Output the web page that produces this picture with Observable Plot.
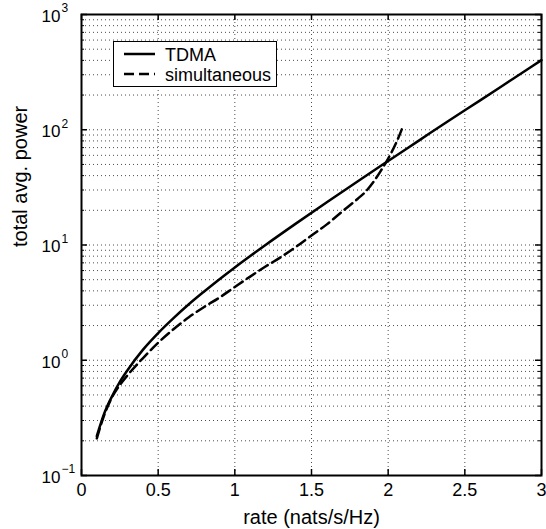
<!DOCTYPE html>
<html>
<head>
<meta charset="utf-8">
<script src="https://cdn.jsdelivr.net/npm/d3@7"></script>
<script src="https://cdn.jsdelivr.net/npm/@observablehq/plot@0.6"></script>
<style>
  html, body { margin: 0; padding: 0; background: #fff; }
  svg { display: block; }
</style>
</head>
<body>
<div id="chart"></div>
<script>
// ---- data ----
const rateTDMA  = [0.1, 0.15, 0.2, 0.25, 0.3, 0.4, 0.5, 0.6, 0.7, 0.8, 0.9, 1.0, 1.2, 1.4, 1.6, 1.8, 2.0, 2.2, 2.4, 2.6, 2.8, 3.0];
const powerTDMA = [0.22, 0.35, 0.49, 0.65, 0.82, 1.23, 1.72, 2.32, 3.06, 3.95, 5.05, 6.39, 10.0, 15.4, 23.5, 35.6, 53.6, 80.5, 121, 180, 269, 402];

const rateSim  = [0.1, 0.15, 0.2, 0.25, 0.3, 0.4, 0.5, 0.6, 0.7, 0.8, 0.9, 1.0, 1.1, 1.2, 1.3, 1.4, 1.5, 1.6, 1.7, 1.8, 1.85, 1.9, 1.95, 2.0, 2.05, 2.1];
const powerSim = [0.21, 0.34, 0.48, 0.61, 0.74, 1.04, 1.42, 1.86, 2.36, 2.90, 3.50, 4.32, 5.32, 6.5, 7.85, 9.66, 12.1, 15.1, 19.5, 25.1, 28.8, 34.7, 43.6, 56.2, 75.9, 110];

const seriesNames = ["TDMA", "simultaneous"];

const xTicks = [0, 0.5, 1, 1.5, 2, 2.5, 3];
const xTickLabels = ["0", "0.5", "1", "1.5", "2", "2.5", "3"];
const xGrid = [0.5, 1, 1.5, 2, 2.5];

const yMajor = [0.1, 1, 10, 100, 1000];
const yExponents = ["\u22121", "0", "1", "2", "3"];
const yMinor = [0.2, 0.3, 0.4, 0.5, 0.6, 0.7, 0.8, 0.9,
                2, 3, 4, 5, 6, 7, 8, 9,
                20, 30, 40, 50, 60, 70, 80, 90,
                200, 300, 400, 500, 600, 700, 800, 900];
const yGrid = [1, 10, 100].concat(yMinor);

const xLabel = "rate (nats/s/Hz)";
const yLabel = "total avg. power";

// ---- tables ----
const tdma = rateTDMA.map((r, i) => ({rate: r, power: powerTDMA[i]}));
const sim = rateSim.map((r, i) => ({rate: r, power: powerSim[i]}));

const W = 546, H = 529;
const mL = 81, mR = 5, mT = 14, mB = 54;
const innerW = W - mL - mR, innerH = H - mT - mB;
const font = "'Liberation Sans', Arial, Helvetica, sans-serif";

const chart = Plot.plot({
  width: W,
  height: H,
  marginLeft: mL,
  marginRight: mR,
  marginTop: mT,
  marginBottom: mB,
  style: {fontFamily: font, background: "#fff", color: "#000"},
  x: {domain: [0, 3], axis: null},
  y: {type: "log", domain: [0.1, 1000], axis: null},
  marks: [
    // grid
    Plot.ruleY(yGrid, {y: d => d, stroke: "#000", strokeWidth: 1, strokeOpacity: 0.7, strokeDasharray: "1,3"}),
    Plot.ruleX(xGrid, {x: d => d, stroke: "#000", strokeWidth: 1, strokeOpacity: 0.7, strokeDasharray: "1,3"}),
    // inward ticks
    Plot.ruleX(xTicks, {x: d => d, insetTop: innerH - 6, stroke: "#000", strokeWidth: 1.5}),
    Plot.ruleX(xTicks, {x: d => d, insetBottom: innerH - 6, stroke: "#000", strokeWidth: 1.5}),
    Plot.ruleY(yMajor, {y: d => d, insetRight: innerW - 6, stroke: "#000", strokeWidth: 1.5}),
    Plot.ruleY(yMajor, {y: d => d, insetLeft: innerW - 6, stroke: "#000", strokeWidth: 1.5}),
    Plot.ruleY(yMinor, {y: d => d, insetRight: innerW - 3, stroke: "#000", strokeWidth: 1}),
    Plot.ruleY(yMinor, {y: d => d, insetLeft: innerW - 3, stroke: "#000", strokeWidth: 1}),
    // curves
    Plot.line(tdma, {x: "rate", y: "power", stroke: "#000", strokeWidth: 2.5, curve: "monotone-x"}),
    Plot.line(sim, {x: "rate", y: "power", stroke: "#000", strokeWidth: 2.5, strokeDasharray: "10,5", curve: "monotone-x"}),
    Plot.frame({stroke: "#000", strokeWidth: 2}),
    // x tick labels
    Plot.text(xTicks, {x: d => d, frameAnchor: "bottom", text: (d, i) => xTickLabels[i], lineAnchor: "top", dy: 8, fontSize: 18, fill: "#000"}),
    // y tick labels: base and exponent
    Plot.text(yMajor, {y: d => d, frameAnchor: "left", text: () => "10", textAnchor: "end", lineAnchor: "middle", dx: -21, dy: 2, fontSize: 17, fill: "#000"}),
    Plot.text(yMajor, {y: d => d, frameAnchor: "left", text: (d, i) => yExponents[i], textAnchor: "start", lineAnchor: "middle", dx: -20, dy: -6, fontSize: 12, fill: "#000"}),
    // axis labels
    Plot.text([xLabel], {frameAnchor: "bottom", text: d => d, lineAnchor: "middle", dy: 42, fontSize: 20, fill: "#000"}),
    Plot.text([yLabel], {frameAnchor: "left", text: d => d, rotate: -90, lineAnchor: "middle", dx: -61, dy: 2, fontSize: 20, fill: "#000"})
  ]
});

document.getElementById("chart").appendChild(chart);

// legend
const svg = d3.select(chart);
const lg = svg.append("g").attr("font-family", font).attr("font-size", 18).attr("text-anchor", "start");
lg.append("rect").attr("x", 113.5).attr("y", 41.5).attr("width", 163).attr("height", 45)
  .attr("fill", "#fff").attr("stroke", "#000").attr("stroke-width", 1);
const legendRows = [{y: 54, dash: null}, {y: 74, dash: "10,5"}];
legendRows.forEach((r, i) => {
  const ln = lg.append("line").attr("x1", 124).attr("x2", 155).attr("y1", r.y).attr("y2", r.y)
    .attr("stroke", "#000").attr("stroke-width", 2.5);
  if (r.dash) ln.attr("stroke-dasharray", r.dash);
  lg.append("text").attr("x", 165).attr("y", r.y + 6.5).attr("fill", "#000")
    .attr("text-anchor", "start").text(seriesNames[i]);
});
</script>
</body>
</html>
